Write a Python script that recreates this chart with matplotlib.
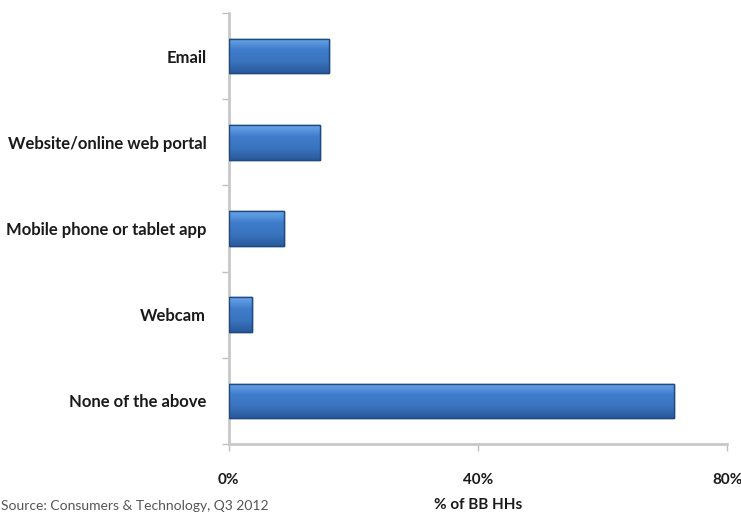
import matplotlib.pyplot as plt
import numpy as np
from matplotlib.colors import LinearSegmentedColormap
from matplotlib.ticker import FixedLocator, FuncFormatter

# values (% of broadband households)
CATEGORIES = ["Email", "Website/online web portal", "Mobile phone or tablet app", "Webcam", "None of the above"]
VALUES = [16.1, 14.7, 8.9, 3.7, 71.5]
X_TICKS = [0, 40, 80]

plt.rcParams["font.family"] = ["Lato", "DejaVu Sans"]

fig = plt.figure(figsize=(7.41, 5.13), dpi=100)
ax = fig.add_axes([0.3084, 0.1345, 0.6731, 0.8402])

y = np.arange(len(CATEGORIES))
bars = ax.barh(y, VALUES, height=0.4, color="#3D79C6", edgecolor="#1F4A80", linewidth=1.0, zorder=3)

# soft vertical gradient inside each bar (light top, darker bottom)
shade = LinearSegmentedColormap.from_list("shade", ["#6BA6EA", "#3F7CCB", "#3A74BF", "#2A5A9C"])
grad = np.linspace(0, 1, 64).reshape(-1, 1)
for b in bars:
    x0, y0 = b.get_x(), b.get_y()
    im = ax.imshow(grad, cmap=shade, aspect="auto", origin="upper",
                   extent=(x0, x0 + b.get_width(), y0 + b.get_height(), y0), zorder=3.5)
    im.set_clip_path(b)
    ax.barh(b.get_y() + b.get_height() / 2, b.get_width(), height=b.get_height(),
            facecolor="none", edgecolor="#1F4A80", linewidth=1.0, zorder=4)

ax.set_xlim(0, 80)
ax.set_ylim(len(CATEGORIES) - 0.5, -0.5)

# category boundaries get the tick marks, labels sit at the bar centres
ax.yaxis.set_major_locator(FixedLocator(np.arange(-0.5, len(CATEGORIES), 1.0)))
ax.yaxis.set_major_formatter(FuncFormatter(lambda v, p: ""))
ax.set_yticks(y, CATEGORIES, minor=True)
ax.tick_params(axis="y", which="major", length=5, color="#BFBFBF", width=1)
ax.tick_params(axis="y", which="minor", length=0, pad=16, labelsize=12, labelcolor="#1A1A1A")
for lbl in ax.get_yticklabels(minor=True):
    lbl.set_fontweight("bold")

ax.set_xticks(X_TICKS)
ax.set_xticklabels([f"{t}%" for t in X_TICKS])
ax.tick_params(axis="x", length=5, color="#BFBFBF", width=1, pad=16, labelsize=11, labelcolor="#1A1A1A")
for lbl in ax.get_xticklabels():
    lbl.set_fontweight("bold")

for side in ["top", "right"]:
    ax.spines[side].set_visible(False)
for side in ["left", "bottom"]:
    ax.spines[side].set_color("#C8C8C8")
    ax.spines[side].set_linewidth(2)

ax.set_xlabel("% of BB HHs", fontsize=11, fontweight="bold", color="#1A1A1A", labelpad=8)

fig.text(0.002, 0.002, "Source: Consumers & Technology, Q3 2012", fontsize=10, color="#555555",
         ha="left", va="bottom")

fig.savefig("out.png", dpi=100)
